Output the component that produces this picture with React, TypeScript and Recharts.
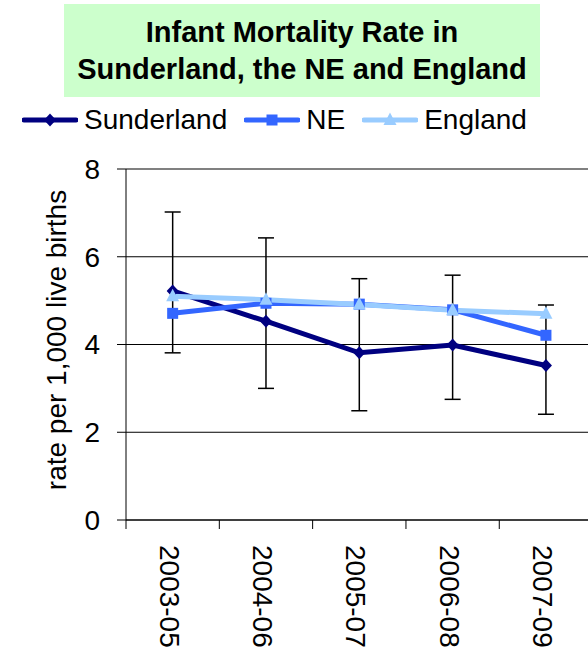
import React from "react";
import {
  CartesianGrid,
  ErrorBar,
  Line,
  LineChart,
  ReferenceLine,
  XAxis,
  YAxis,
} from "recharts";

const periods = ["2003-05", "2004-06", "2005-07", "2006-08", "2007-09"];
const sunderland = [5.22, 4.53, 3.81, 3.99, 3.52];
const sunderlandLow = [3.81, 3.0, 2.49, 2.75, 2.41];
const sunderlandHigh = [7.02, 6.43, 5.5, 5.58, 4.9];
const northEast = [4.71, 4.94, 4.92, 4.79, 4.21];
const england = [5.1, 5.02, 4.91, 4.78, 4.7];
const yTicks = [0, 2, 4, 6, 8];

const NAVY = "#000080";
const BLUE = "#3366FF";
const LIGHT = "#99CCFF";
const FONT = "'Liberation Sans', Arial, sans-serif";

const data = periods.map((period, i) => ({
  period,
  sunderland: sunderland[i],
  ne: northEast[i],
  england: england[i],
  ci: [sunderland[i] - sunderlandLow[i], sunderlandHigh[i] - sunderland[i]],
}));

function diamond(cx: number, cy: number, fill: string, key?: string) {
  return (
    <path
      key={key}
      d={`M${cx},${cy - 6.5} L${cx + 6},${cy} L${cx},${cy + 6.5} L${cx - 6},${cy} Z`}
      fill={fill}
    />
  );
}

function square(cx: number, cy: number, fill: string, key?: string) {
  return <rect key={key} x={cx - 5.5} y={cy - 5.5} width={11} height={11} fill={fill} />;
}

function triangle(cx: number, cy: number, fill: string, key?: string) {
  return (
    <path
      key={key}
      d={`M${cx},${cy - 7.5} L${cx + 6.5},${cy + 5} L${cx - 6.5},${cy + 5} Z`}
      fill={fill}
    />
  );
}

const PeriodTick = (props: any) => {
  const { x, y, payload } = props;
  const half = payload.offset ?? 0;
  const bx = x - 13;
  const by = y + 25;
  return (
    <g>
      <line x1={x - half} y1={y} x2={x - half} y2={y + 9} stroke="#000" />
      <text
        x={bx}
        y={by}
        transform={`rotate(90 ${bx} ${by})`}
        fontSize={28}
        fill="#000"
        fontFamily={FONT}
      >
        {payload.value}
      </text>
    </g>
  );
};

const YTitle = () => (
  <text
    x={66}
    y={340}
    transform="rotate(-90 66 340)"
    textAnchor="middle"
    fontSize={28}
    fill="#000"
    fontFamily={FONT}
  >
    rate per 1,000 live births
  </text>
);

const legendItems = [
  { name: "Sunderland", color: NAVY, marker: diamond },
  { name: "NE", color: BLUE, marker: square },
  { name: "England", color: LIGHT, marker: triangle },
];

export default function App() {
  return (
    <div
      style={{
        position: "absolute",
        left: 0,
        top: 0,
        width: 588,
        height: 656,
        overflow: "hidden",
        background: "#fff",
        fontFamily: FONT,
      }}
    >
      <div
        style={{
          position: "absolute",
          left: 64,
          top: 4,
          width: 476,
          height: 93,
          background: "#CCFFCC",
          textAlign: "center",
          fontWeight: "bold",
          fontSize: 29,
          lineHeight: "37px",
          paddingTop: 10,
          boxSizing: "border-box",
          color: "#000",
        }}
      >
        Infant Mortality Rate in
        <br />
        Sunderland, the NE and England
      </div>

      <div
        style={{
          position: "absolute",
          left: 22,
          top: 104,
          display: "flex",
          alignItems: "center",
          gap: 17,
          fontSize: 28,
          color: "#000",
        }}
      >
        {legendItems.map((item) => (
          <div key={item.name} style={{ display: "flex", alignItems: "center", gap: 6 }}>
            <svg width={56} height={24}>
              <line x1={2} y1={12} x2={54} y2={12} stroke={item.color} strokeWidth={5} strokeLinecap="round" />
              {item.marker(28, 12, item.color)}
            </svg>
            <span>{item.name}</span>
          </div>
        ))}
      </div>

      <div style={{ position: "absolute", left: 0, top: 0 }}>
        <LineChart
          width={600}
          height={656}
          data={data}
          margin={{ top: 169, right: 7.4, bottom: 0, left: 0 }}
        >
          <CartesianGrid vertical={false} stroke="#000" />
          <ReferenceLine y={8} stroke="#808080" strokeWidth={1.5} />
          <XAxis
            dataKey="period"
            scale="band"
            interval={0}
            height={136}
            tickLine={false}
            tickSize={0}
            tickMargin={0}
            axisLine={{ stroke: "#000" }}
            tick={<PeriodTick />}
          />
          <YAxis
            width={126}
            domain={[0, 8]}
            ticks={yTicks}
            interval={0}
            tickSize={9}
            tickMargin={17}
            axisLine={{ stroke: "#000" }}
            tickLine={{ stroke: "#000" }}
            tick={{ fontSize: 28, fill: "#000", fontFamily: FONT }}
            label={{ content: <YTitle /> }}
          />
          <Line
            dataKey="sunderland"
            type="linear"
            stroke={NAVY}
            strokeWidth={5}
            dot={(p: any) => diamond(p.cx, p.cy, NAVY, `sd-${p.index}`)}
            activeDot={false}
            isAnimationActive={false}
          >
            <ErrorBar dataKey="ci" direction="y" width={8} stroke="#000" strokeWidth={1.5} />
          </Line>
          <Line
            dataKey="ne"
            type="linear"
            stroke={BLUE}
            strokeWidth={5}
            dot={(p: any) => square(p.cx, p.cy, BLUE, `ne-${p.index}`)}
            activeDot={false}
            isAnimationActive={false}
          />
          <Line
            dataKey="england"
            type="linear"
            stroke={LIGHT}
            strokeWidth={5}
            dot={(p: any) => triangle(p.cx, p.cy, LIGHT, `en-${p.index}`)}
            activeDot={false}
            isAnimationActive={false}
          />
        </LineChart>
      </div>
    </div>
  );
}
